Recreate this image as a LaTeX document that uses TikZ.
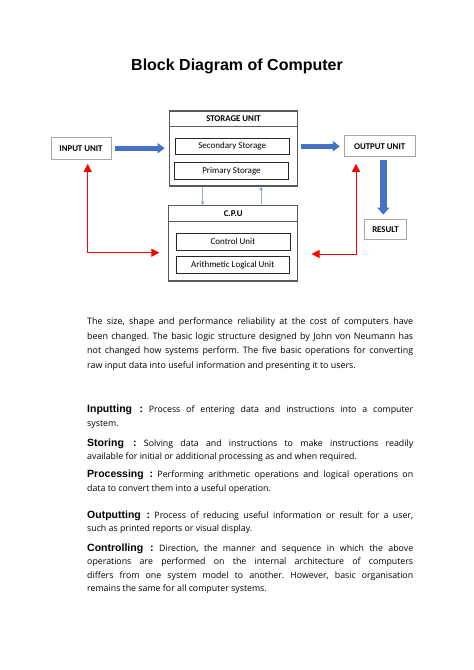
\documentclass[tikz,border=0pt]{standalone}
\usepackage{fontspec}
\setmainfont{Open Sans}
\newfontfamily\diafont{Carlito}
\newfontfamily\headfont{Liberation Sans}
\usetikzlibrary{arrows.meta}
\definecolor{bluearr}{HTML}{4472C4}
\definecolor{lightarr}{HTML}{8FAADC}
\definecolor{boxgray}{HTML}{595959}
\definecolor{lgray}{HTML}{A6A6A6}
\newcommand{\fullline}[1]{\makebox[326pt][s]{#1}\par}
\newcommand{\hd}[1]{{\headfont\bfseries\fontsize{10.5}{12}\selectfont #1}}
\begin{document}
\frenchspacing
\begin{tikzpicture}[x=1pt,y=-1pt,
  outerbox/.style={draw=boxgray, line width=1.2pt, inner sep=0pt, fill=white},
  headbox/.style={draw=boxgray, line width=1.2pt, inner sep=0pt, font=\diafont\bfseries\fontsize{8.8}{10}\selectfont},
  innerbox/.style={draw=black!85, line width=0.8pt, inner sep=0pt, font=\diafont\fontsize{9}{10}\selectfont},
  unitbox/.style={draw=lgray, line width=1pt, inner sep=0pt, fill=white, font=\diafont\bfseries\fontsize{8.8}{10}\selectfont},
  bigarr/.style={draw=bluearr, line width=4.6pt, -{Triangle[length=7pt,width=10pt]}},
  downarr/.style={draw=bluearr, line width=6.5pt, -{Triangle[length=7pt,width=12pt]}},
  thinarr/.style={draw=lightarr, line width=0.9pt, -{Triangle[length=3.5pt,width=3.5pt]}},
  redarr/.style={draw=red, line width=1pt, {Triangle[length=8pt,width=8pt]}-{Triangle[length=8pt,width=8pt]}},
  bodytext/.style={anchor=north west, inner sep=0pt, text width=326pt, align=justify},
]
\fill[white] (0,0) rectangle (474,670);
\useasboundingbox (0,0) rectangle (474,670);

% title
\node[font=\headfont\bfseries\fontsize{16}{19}\selectfont] (title) at (237,66.7) {Block Diagram of Computer};

% storage unit
\node[outerbox, minimum width=128.4pt, minimum height=75pt] (st) at (233.5,148.5) {};
\node[headbox, minimum width=128.4pt, minimum height=15.7pt, anchor=north] (sth) at (st.north) {STORAGE UNIT};
\node[innerbox, minimum width=114.3pt, minimum height=16pt] (sec) at (232.2,146.3) {Secondary Storage};
\node[innerbox, minimum width=114.4pt, minimum height=16.3pt] (pri) at (231.5,170.8) {Primary Storage};

% cpu
\node[outerbox, minimum width=129pt, minimum height=75.3pt] (cpu) at (233.2,243.35) {};
\node[headbox, minimum width=129pt, minimum height=16pt, anchor=north] (cpuh) at (cpu.north) {C.P.U};
\node[innerbox, minimum width=114pt, minimum height=16.7pt] (cu) at (233,241.7) {Control Unit};
\node[innerbox, minimum width=113.3pt, minimum height=16.6pt] (alu) at (232.7,265) {Arithmetic Logical Unit};

% units
\node[unitbox, minimum width=60pt, minimum height=21.7pt] (in) at (81,148.2) {INPUT UNIT};
\node[unitbox, minimum width=70.7pt, minimum height=20.7pt] (out) at (379.7,146.3) {OUTPUT UNIT};
\node[unitbox, minimum width=42.4pt, minimum height=20.3pt] (res) at (385.5,229.2) {RESULT};

% blue arrows
\draw[bigarr] ([xshift=3pt]in.east) -- ([xshift=-4pt]in.east -| st.west);
\draw[bigarr] ([xshift=3pt]st.east |- out.west) -- ([xshift=-4pt]out.west);
\coordinate (dx) at (383.3,0);
\draw[downarr] ([yshift=-3pt]dx |- out.south) -- ([yshift=4pt]dx |- res.north);

% thin arrows between storage and cpu
\coordinate (td) at (202.7,0);
\coordinate (tu) at (261,0);
\draw[thinarr] (td |- st.south) -- (td |- cpu.north);
\draw[thinarr] ([yshift=1pt]tu |- cpu.north) -- (tu |- st.south);

% red arrows
\coordinate (rl) at (87.7,252.7);
\coordinate (rr) at (356,254);
\draw[redarr] ([yshift=-4.3pt]rl |- in.south) -- (rl) -- ([xshift=-8.7pt]rl -| cpu.west);
\draw[redarr] ([yshift=-6.7pt]rr |- out.south) -- (rr) -- ([xshift=13.3pt]rr -| cpu.east);

% text
\node[bodytext, font=\fontsize{8.9}{14.5}\selectfont] (intro) at (87,317.5)
{\fullline{The size, shape and performance reliability at the cost of computers have}
\fullline{been changed. The basic logic structure designed by John von Neumann has}
\fullline{not changed how systems perform. The five basic operations for converting}
raw input data into useful information and presenting it to users.};

\node[bodytext, font=\fontsize{8.8}{13.3}\selectfont] (inp) at (87,405)
{\fullline{\hd{Inputting :} Process of entering data and instructions into a computer}
system.};

\node[bodytext, font=\fontsize{8.8}{13.3}\selectfont] (sto) at (87,438.4)
{\fullline{\hd{Storing :} Solving data and instructions to make instructions readily}
available for initial or additional processing as and when required.};

\node[bodytext, font=\fontsize{8.8}{13.3}\selectfont] (pro) at (87,470)
{\fullline{\hd{Processing :} Performing arithmetic operations and logical operations on}
data to convert them into a useful operation.};

\node[bodytext, font=\fontsize{8.8}{13.3}\selectfont] (outp) at (87,510.3)
{\fullline{\hd{Outputting :} Process of reducing useful information or result for a user,}
such as printed reports or visual display.};

\node[bodytext, font=\fontsize{8.8}{13.4}\selectfont] (con) at (87,543.7)
{\fullline{\hd{Controlling :} Direction, the manner and sequence in which the above}
\fullline{operations are performed on the internal architecture of computers}
\fullline{differs from one system model to another. However, basic organisation}
remains the same for all computer systems.};
\end{tikzpicture}
\end{document}
